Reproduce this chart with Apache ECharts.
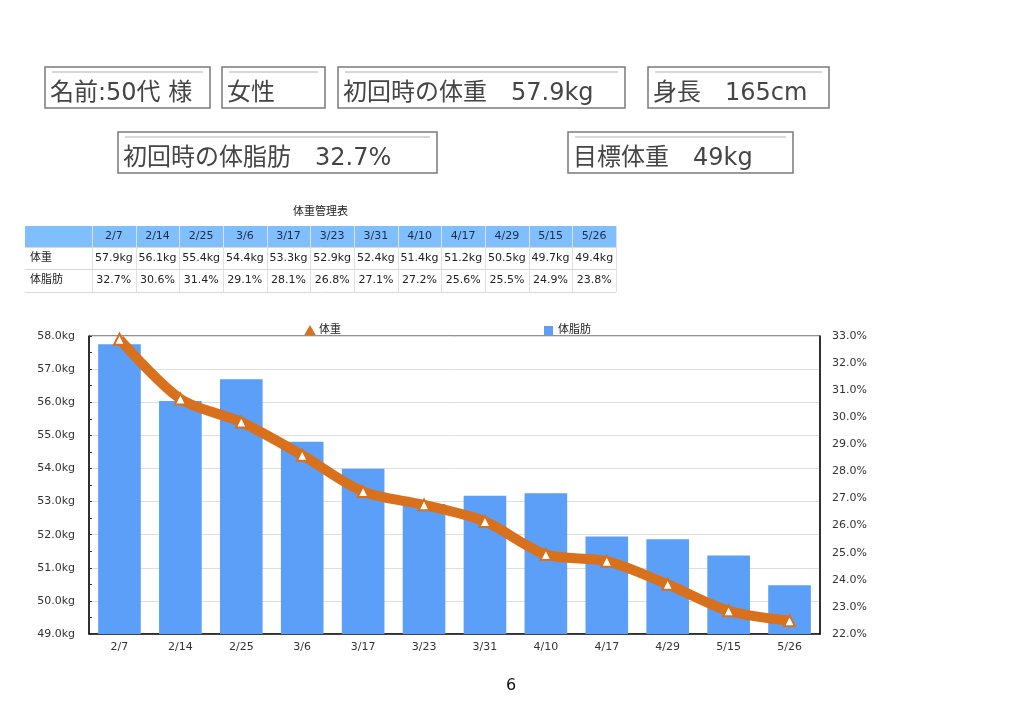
<!DOCTYPE html>
<html><head><meta charset="utf-8">
<script src="https://cdn.jsdelivr.net/npm/echarts@6/dist/echarts.min.js"></script>
<style>html,body{margin:0;padding:0;background:#fff}#c{width:1024px;height:724px}</style>
</head><body><div id="c"></div>
<script>
const dates = ['2/7','2/14','2/25','3/6','3/17','3/23','3/31','4/10','4/17','4/29','5/15','5/26'];
const weight = [57.9,56.1,55.4,54.4,53.3,52.9,52.4,51.4,51.2,50.5,49.7,49.4];
const fat = [32.7,30.6,31.4,29.1,28.1,26.8,27.1,27.2,25.6,25.5,24.9,23.8];
const seriesNames = ['体重','体脂肪'];
const tableTitle = '体重管理表';
const headerTexts = ['名前:50代 様','女性','初回時の体重　57.9kg','身長　165cm','初回時の体脂肪　32.7%','目標体重　49kg'];
const pageNumber = '6';

const FONT = '"DejaVu Sans", "Noto Sans CJK JP", sans-serif';
const ORANGE = '#D8701C';
const BLUE = '#5B9FF8';

const boxes = [[45,67,165,41],[222,67,103,41],[338,67,287,41],[648,67,181,41],[118,132,319,41],[568,132,225,41]];
const g = [];
headerTexts.forEach((t,i)=>{
  const [x,y,w,h] = boxes[i];
  g.push({type:'rect',shape:{x:x,y:y,width:w,height:h},style:{fill:'#fff',stroke:'#7a7a7a',lineWidth:1.5},z:1});
  g.push({type:'line',shape:{x1:x+7,y1:y+5,x2:x+w-7,y2:y+5},style:{stroke:'#b0b0b0',lineWidth:1},z:2});
  g.push({type:'text',x:x+5,y:y+26.5,style:{text:t,font:'24px '+FONT,fill:'#454545',textVerticalAlign:'middle'},z:3});
});

// table
const tx0 = 25, c0w = 67, cw = 43.67, ry = [226,247,269,292];
const tx1 = tx0 + c0w + cw*dates.length;
g.push({type:'text',x:(tx0+tx1)/2,y:212,style:{text:tableTitle,font:'11px '+FONT,fill:'#222',textAlign:'center',textVerticalAlign:'middle'}});
g.push({type:'rect',shape:{x:tx0,y:ry[0],width:tx1-tx0,height:ry[1]-ry[0]},style:{fill:'#80BFFD'}});
for (let r=1;r<ry.length;r++){
  g.push({type:'line',shape:{x1:tx0,y1:ry[r]+0.5,x2:tx1,y2:ry[r]+0.5},style:{stroke:'#d8d8d8',lineWidth:1}});
}
for (let c=0;c<=dates.length;c++){
  const x = Math.round(tx0+c0w+cw*c)+0.5;
  g.push({type:'line',shape:{x1:x,y1:ry[0],x2:x,y2:ry[3]},style:{stroke:'#e0e0e0',lineWidth:1}});
}
seriesNames.forEach((l,r)=>{
  g.push({type:'text',x:tx0+5,y:(ry[r+1]+ry[r+2])/2,style:{text:l,font:'11px '+FONT,fill:'#222',textVerticalAlign:'middle'}});
});
dates.forEach((d,i)=>{
  const cx = tx0+c0w+cw*(i+0.5);
  g.push({type:'text',x:cx,y:(ry[0]+ry[1])/2,style:{text:d,font:'11px '+FONT,fill:'#1e2a44',textAlign:'center',textVerticalAlign:'middle'}});
  g.push({type:'text',x:cx,y:(ry[1]+ry[2])/2,style:{text:weight[i].toFixed(1)+'kg',font:'11px '+FONT,fill:'#222',textAlign:'center',textVerticalAlign:'middle'}});
  g.push({type:'text',x:cx,y:(ry[2]+ry[3])/2,style:{text:fat[i].toFixed(1)+'%',font:'11px '+FONT,fill:'#222',textAlign:'center',textVerticalAlign:'middle'}});
});
g.push({type:'text',x:511,y:686,style:{text:pageNumber,font:'16px '+FONT,fill:'#111',textAlign:'center',textVerticalAlign:'middle'}});

const chart = echarts.init(document.getElementById('c'));
chart.setOption({
  animation:false,
  textStyle:{fontFamily:FONT},
  graphic:g,
  legend:[
    {data:[{name:seriesNames[0],icon:'triangle',itemStyle:{color:ORANGE}}],left:300,top:320,itemWidth:8,itemHeight:7,itemGap:5,textStyle:{fontSize:11,color:'#222'}},
    {data:[{name:seriesNames[1],icon:'rect'}],left:539,top:320,itemWidth:9,itemHeight:9,textStyle:{fontSize:11,color:'#222'}}
  ],
  grid:{left:89,right:204,top:336,bottom:90,show:true,borderColor:'#222',borderWidth:1,containLabel:false},
  xAxis:{type:'category',data:dates,axisLine:{lineStyle:{color:'#111',width:1.5}},axisTick:{show:false},
    axisLabel:{fontSize:11,color:'#333',margin:8}},
  yAxis:[
    {type:'value',min:49,max:58,interval:1,position:'left',
     axisLine:{show:true,lineStyle:{color:'#111',width:1.5}},
     axisTick:{show:true,inside:true,length:3,lineStyle:{color:'#333'}},
     minorTick:{show:true,splitNumber:2,length:3,lineStyle:{color:'#333'}},
     splitLine:{lineStyle:{color:'#dedede'}},
     axisLabel:{fontSize:11,color:'#333',margin:14,formatter:v=>v.toFixed(1)+'kg'}},
    {type:'value',min:22,max:33,interval:1,position:'right',
     axisLine:{show:true,lineStyle:{color:'#111',width:1.5}},axisTick:{show:false},
     splitLine:{show:false},
     axisLabel:{fontSize:11,color:'#333',margin:12,formatter:v=>v.toFixed(1)+'%'}}
  ],
  series:[
    {name:seriesNames[0],type:'line',yAxisIndex:0,data:weight,smooth:0.3,z:5,
     lineStyle:{color:ORANGE,width:10},itemStyle:{color:'#fff',borderColor:ORANGE,borderWidth:2},
     symbol:'triangle',symbolSize:11},
    {name:seriesNames[1],type:'bar',yAxisIndex:1,data:fat,barWidth:'70%',z:2,
     itemStyle:{color:BLUE}}
  ]
});
</script></body></html>
